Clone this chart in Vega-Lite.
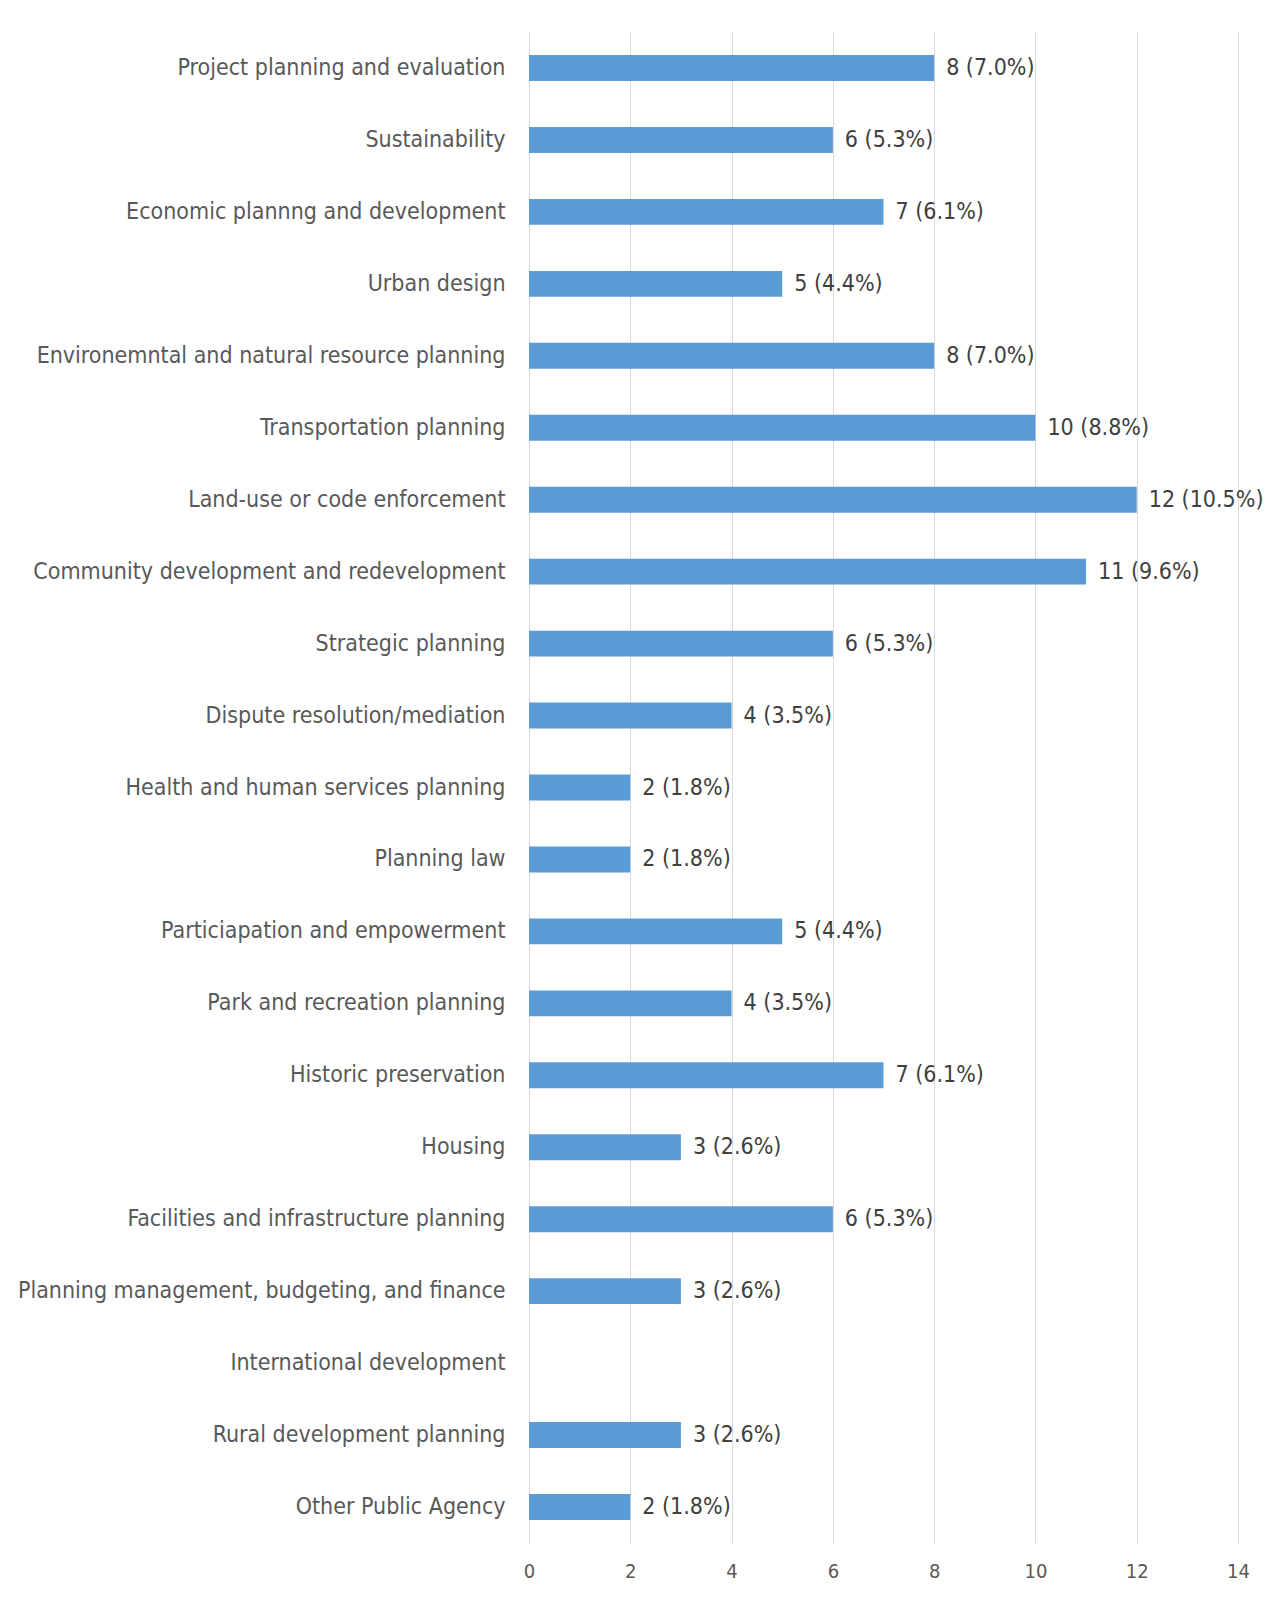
{
  "$schema": "https://vega.github.io/schema/vega-lite/v6.json",
  "width": 709,
  "height": 1511,
  "autosize": {"type": "none"},
  "padding": {"left": 529, "top": 32, "right": 32, "bottom": 55},
  "background": "white",
  "config": {"view": {"stroke": null}},
  "data": {
    "values": [
      {"category": "Project planning and evaluation", "count": 8, "label": "8 (7.0%)"},
      {"category": "Sustainability", "count": 6, "label": "6 (5.3%)"},
      {"category": "Economic plannng and development", "count": 7, "label": "7 (6.1%)"},
      {"category": "Urban design", "count": 5, "label": "5 (4.4%)"},
      {"category": "Environemntal and natural resource planning", "count": 8, "label": "8 (7.0%)"},
      {"category": "Transportation planning", "count": 10, "label": "10 (8.8%)"},
      {"category": "Land-use or code enforcement", "count": 12, "label": "12 (10.5%)"},
      {"category": "Community development and redevelopment", "count": 11, "label": "11 (9.6%)"},
      {"category": "Strategic planning", "count": 6, "label": "6 (5.3%)"},
      {"category": "Dispute resolution/mediation", "count": 4, "label": "4 (3.5%)"},
      {"category": "Health and human services planning", "count": 2, "label": "2 (1.8%)"},
      {"category": "Planning law", "count": 2, "label": "2 (1.8%)"},
      {"category": "Particiapation and empowerment", "count": 5, "label": "5 (4.4%)"},
      {"category": "Park and recreation planning", "count": 4, "label": "4 (3.5%)"},
      {"category": "Historic preservation", "count": 7, "label": "7 (6.1%)"},
      {"category": "Housing", "count": 3, "label": "3 (2.6%)"},
      {"category": "Facilities and infrastructure planning", "count": 6, "label": "6 (5.3%)"},
      {"category": "Planning management, budgeting, and finance", "count": 3, "label": "3 (2.6%)"},
      {"category": "International development", "count": 0, "label": ""},
      {"category": "Rural development planning", "count": 3, "label": "3 (2.6%)"},
      {"category": "Other Public Agency", "count": 2, "label": "2 (1.8%)"}
    ]
  },
  "encoding": {
    "y": {
      "field": "category",
      "type": "nominal",
      "sort": null,
      "scale": {"paddingInner": 0.64, "paddingOuter": 0.32},
      "axis": {
        "title": null,
        "domain": false,
        "ticks": false,
        "grid": false,
        "labelPadding": 24,
        "labelFont": "DejaVu Sans Condensed, Liberation Sans Narrow, sans-serif",
        "labelFontSize": 23,
        "labelColor": "#595959",
        "labelLimit": 525
      }
    },
    "x": {
      "field": "count",
      "type": "quantitative",
      "scale": {"domain": [0, 14], "nice": false},
      "axis": {
        "title": null,
        "values": [0, 2, 4, 6, 8, 10, 12, 14],
        "domain": false,
        "ticks": false,
        "grid": true,
        "gridColor": "#d9d9d9",
        "gridWidth": 1,
        "labelFlush": false,
        "labelPadding": 18,
        "labelFont": "DejaVu Sans Condensed, Liberation Sans Narrow, sans-serif",
        "labelFontSize": 20,
        "labelColor": "#595959"
      }
    }
  },
  "layer": [
    {"mark": {"type": "bar", "color": "#5b9bd5"}},
    {
      "mark": {
        "type": "text",
        "align": "left",
        "baseline": "middle",
        "dx": 12,
        "font": "DejaVu Sans Condensed, Liberation Sans Narrow, sans-serif",
        "fontSize": 23,
        "color": "#404040"
      },
      "encoding": {"text": {"field": "label"}}
    }
  ]
}
